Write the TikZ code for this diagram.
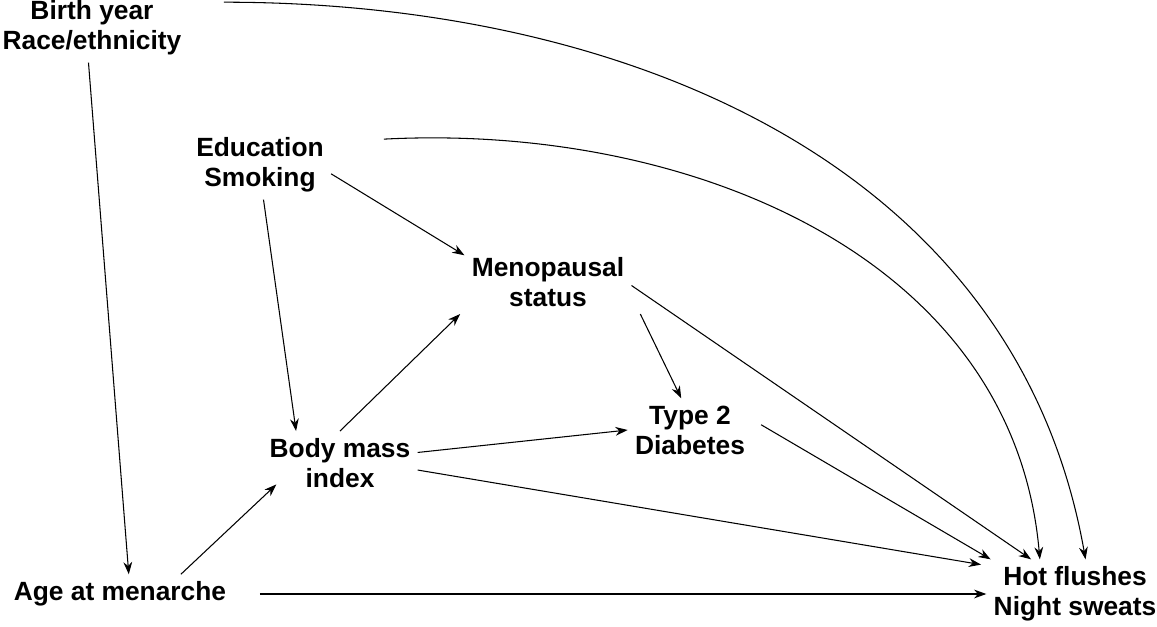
\documentclass[tikz,border=0pt]{standalone}
\usepackage{fontspec}
\setmainfont{Liberation Sans}
\usetikzlibrary{arrows.meta}
\begin{document}
\begin{tikzpicture}[x=0.02cm,y=-0.02cm,
    var/.style={font=\fontsize{15}{17}\selectfont\bfseries, align=center, inner sep=4pt},
    arr/.style={-{Stealth[length=7pt,width=5pt]}, semithick}]
        \useasboundingbox (0,0) rectangle (1157,626);

        % Variables
        \node[var] (birth) at (92,28) {Birth year\\Race/ethnicity};
        \node[var] (edu) at (260,165) {Education\\Smoking};
        \node[var] (meno) at (548,282) {Menopausal\\status};
        \node[var] (bmi) at (340,463) {Body mass\\index};
        \node[var] (t2d) at (690,430) {Type 2\\Diabetes};
        \node[var] (age) at (120,594) {Age at menarche};
        \node[var] (hot) at (1075,594) {Hot flushes\\Night sweats};

        % Paths
        \draw[arr] ([xshift=-2pt]birth.south) -- ([xshift=5pt]age.north);
        \draw[arr] ([xshift=20pt,yshift=-5pt]birth.north east) to[out=0, in=100, looseness=1.0] ([xshift=6pt]hot.north);
        \draw[arr] ([xshift=30pt,yshift=-5pt]edu.north east) to[out=3, in=95, looseness=1.0] ([xshift=-20pt]hot.north);
        \draw[arr] ([yshift=-5pt]edu.east) -- ([yshift=-3pt]meno.north west);
        \draw[arr] ([xshift=2pt]edu.south) -- ([xshift=-25pt]bmi.north);
        \draw[arr] (bmi.north) -- ([xshift=-50pt]meno.south);
        \draw[arr] ([yshift=6pt]bmi.east) -- ([yshift=0pt]t2d.west);
        \draw[arr] ([yshift=-4pt]bmi.east) -- ([xshift=-3pt,yshift=-3pt]hot.north west);
        \draw[arr] ([xshift=5pt]meno.south east) -- ([xshift=-5pt]t2d.north);
        \draw[arr] ([yshift=-2pt]meno.east) -- ([xshift=-25pt]hot.north);
        \draw[arr] ([xshift=5pt,yshift=3pt]t2d.east) -- ([xshift=-48pt]hot.north);
        \draw[arr] ([xshift=-30pt]age.north east) -- ([xshift=8pt,yshift=6pt]bmi.south west);
        \draw[arr] ([xshift=15pt]age.east) -- (hot.west);
\end{tikzpicture}
\end{document}
